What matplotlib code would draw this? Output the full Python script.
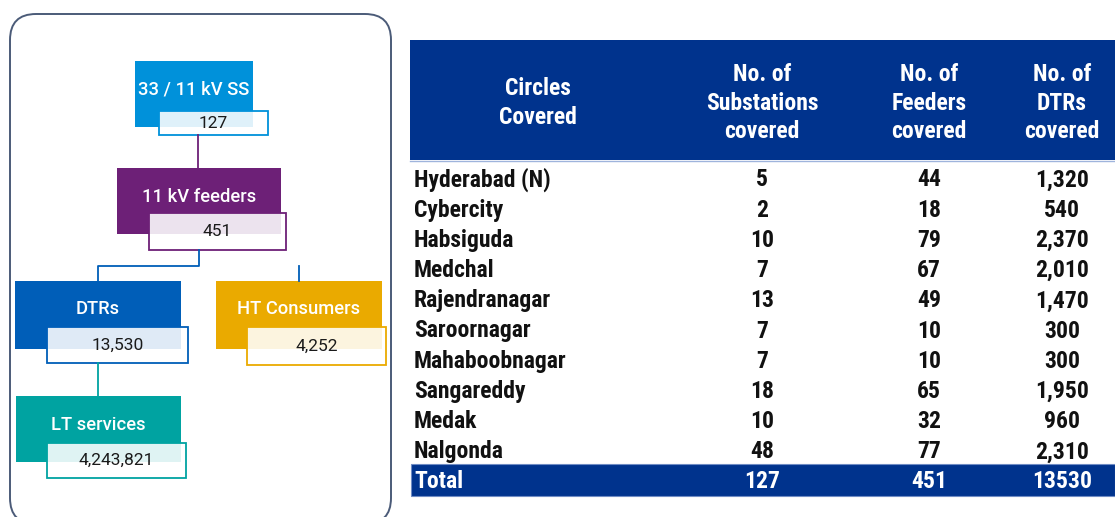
import matplotlib
matplotlib.use("Agg")
import matplotlib.pyplot as plt
from matplotlib.patches import Rectangle, FancyBboxPatch

# diagram nodes (left panel)
node_labels = ["33 / 11 kV SS", "11 kV feeders", "DTRs", "HT Consumers", "LT services"]
node_values = ["127", "451", "13,530", "4,252", "4,243,821"]
node_colors = ["#0091da", "#6d2077", "#005eb8", "#eaaa00", "#00a3a1"]

# table (right panel)
headers = ["Circles\nCovered", "No. of\nSubstations\ncovered", "No. of\nFeeders\ncovered", "No. of\nDTRs\ncovered"]
circles = ["Hyderabad (N)", "Cybercity", "Habsiguda", "Medchal", "Rajendranagar",
           "Saroornagar", "Mahaboobnagar", "Sangareddy", "Medak", "Nalgonda"]
substations = [5, 2, 10, 7, 13, 7, 7, 18, 10, 48]
feeders = [44, 18, 79, 67, 49, 10, 10, 65, 32, 77]
dtrs = [1320, 540, 2370, 2010, 1470, 300, 300, 1950, 960, 2310]

navy = "#00338d"
narrow = ["Roboto Condensed", "DejaVu Sans"]
sans = ["Roboto", "DejaVu Sans"]

fig = plt.figure(figsize=(11.15, 5.17), dpi=100)
ax = fig.add_axes([0, 0, 1, 1])
ax.set_xlim(0, 1115)
ax.set_ylim(517, 0)
ax.axis("off")

# rounded frame
ax.add_patch(FancyBboxPatch((10, 14), 381, 510, boxstyle="round,pad=0,rounding_size=26",
                            fc="white", ec="#4b5b78", lw=1.4))

# node geometry: (x, y, w, h) of coloured box and of its value box
boxes = [(135, 61, 118, 66), (117, 168, 164, 66), (15, 281, 166, 68),
         (216, 281, 166, 68), (16, 396, 165, 66)]
vboxes = [(159, 111, 109, 24), (149, 213, 137, 37), (47, 327, 141, 36),
          (247, 327, 139, 38), (47, 443, 139, 35)]

# connectors
ax.plot([198, 198], [135, 168], color=node_colors[1], lw=1.3)
ax.plot([199, 199, 98, 98], [250, 266, 266, 281], color=node_colors[2], lw=1.3)
ax.plot([299, 299], [266, 281], color=node_colors[2], lw=1.3)
ax.plot([98, 98], [363, 396], color=node_colors[4], lw=1.3)

for lab, val, col, b, v in zip(node_labels, node_values, node_colors, boxes, vboxes):
    ax.add_patch(Rectangle((b[0], b[1]), b[2], b[3], fc=col, ec="none"))
    ax.add_patch(Rectangle((v[0], v[1]), v[2], v[3], fc="white", ec="none", alpha=0.88))
    ax.add_patch(Rectangle((v[0], v[1]), v[2], v[3], fc="none", ec=col, lw=1.3))
    ax.text(b[0] + b[2] / 2, b[1] + 28.5, lab, color="white",
            fontsize=13.2, fontweight="medium", family=sans, ha="center", va="center")
    ax.text(v[0] + v[2] / 2, v[1] + v[3] / 2, val, color="#1a1a1a",
            fontsize=12.5, family=sans, ha="center", va="center")

# table header
ax.add_patch(Rectangle((410, 40), 705, 120, fc=navy, ec="none"))
ax.plot([410, 1115], [160.5, 160.5], color="#9fb4dc", lw=1)
col_x = [538, 762, 929, 1062]
for x, h in zip(col_x, headers):
    ax.text(x, 103, h, color="white", fontsize=17, fontweight="bold", family=narrow,
            ha="center", va="center", linespacing=1.32)

# body rows
row_y0, dy = 180, 30.2
fs = 17
for i, name in enumerate(circles):
    y = row_y0 + i * dy
    ax.text(414, y, name, fontsize=fs, fontweight="bold", family=narrow, va="center", color="#111111")
    ax.text(col_x[1], y, str(substations[i]), fontsize=fs, fontweight="bold", family=narrow,
            ha="center", va="center", color="#111111")
    ax.text(col_x[2], y, str(feeders[i]), fontsize=fs, fontweight="bold", family=narrow,
            ha="center", va="center", color="#111111")
    ax.text(col_x[3], y, f"{dtrs[i]:,}", fontsize=fs, fontweight="bold", family=narrow,
            ha="center", va="center", color="#111111")

# total row
ty = 481
ax.add_patch(Rectangle((411, 464), 704, 32, fc=navy, ec="#6f8cc4", lw=0.8))
ax.text(414, ty, "Total", fontsize=fs, fontweight="bold", family=narrow, va="center", color="white")
for x, v in zip(col_x[1:], [sum(substations), sum(feeders), sum(dtrs)]):
    ax.text(x, ty, str(v), fontsize=fs, fontweight="bold", family=narrow,
            ha="center", va="center", color="white")

fig.savefig("out.png", dpi=100)
